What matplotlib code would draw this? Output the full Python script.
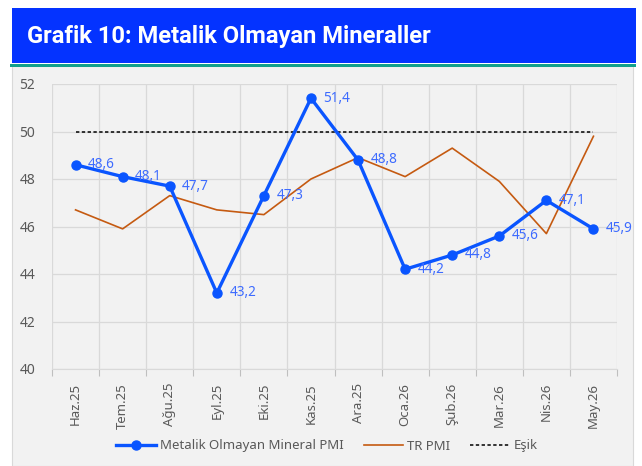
import matplotlib
matplotlib.use("Agg")
import matplotlib.pyplot as plt
from matplotlib.patches import Rectangle
from matplotlib.lines import Line2D

plt.rcParams['font.family'] = ['Noto Sans', 'DejaVu Sans']

months = ['Haz.25', 'Tem.25', 'Ağu.25', 'Eyl.25', 'Eki.25', 'Kas.25',
          'Ara.25', 'Oca.26', 'Şub.26', 'Mar.26', 'Nis.26', 'May.26']
mineral_pmi = [48.6, 48.1, 47.7, 43.2, 47.3, 51.4, 48.8, 44.2, 44.8, 45.6, 47.1, 45.9]
tr_pmi = [46.7, 45.9, 47.3, 46.7, 46.5, 48.0, 48.9, 48.1, 49.3, 47.9, 45.7, 49.8]
threshold = [50] * len(months)

W, H = 642, 466
fig = plt.figure(figsize=(W / 100, H / 100), dpi=100)
fig.patch.set_facecolor('white')

# panel background, title bar, green rule
fig.patches.append(Rectangle((12 / W, 0), 621 / W, 1 - 66 / H, transform=fig.transFigure,
                             facecolor='#F2F2F2', edgecolor='#D9D9D9', lw=0.8, zorder=-10))
fig.patches.append(Rectangle((12 / W, 1 - 63 / H), 624 / W, 55 / H, transform=fig.transFigure,
                             facecolor='#0433FF', edgecolor='none', zorder=-5))
fig.patches.append(Rectangle((10 / W, 1 - 67 / H), 626 / W, 3.5 / H, transform=fig.transFigure,
                             facecolor='#12A08C', edgecolor='none', zorder=-5))
fig.text(27 / W, 1 - 36 / H, 'Grafik 10: Metalik Olmayan Mineraller', color='white',
         fontsize=17.1, fontweight='bold', va='center', ha='left',
         family=['Roboto', 'DejaVu Sans'])

ax = fig.add_axes([52 / W, 1 - 369 / H, 565 / W, 285 / H])
ax.set_facecolor('#F2F2F2')
x = list(range(len(months)))

ax.plot(x, threshold, color='black', lw=1.1, ls=(0, (2.2, 1.6)), zorder=3)
ax.plot(x, tr_pmi, color='#C55A11', lw=1.2, zorder=4)
ax.plot(x, mineral_pmi, color='#0A55FF', lw=2.4, marker='o', ms=6.5, zorder=5)

for xi, v in zip(x, mineral_pmi):
    ax.annotate(f'{v:.1f}'.replace('.', ','), (xi, v), xytext=(9, 0), textcoords='offset points',
                va='center', ha='left', fontsize=9.8, color='#3D6BFF', zorder=6)

ax.set_xlim(-0.5, len(months) - 0.5)
ax.set_ylim(40, 52)
ax.set_yticks(range(40, 53, 2))
ax.set_xticks(x)
ax.set_xticklabels(months, rotation=90, fontsize=9.5, color='#595959')
ax.tick_params(axis='y', length=0, labelsize=10, labelcolor='#595959', pad=12)
ax.tick_params(axis='x', length=0, pad=10)

# gridlines between categories plus outward ticks
ax.set_xticks([i - 0.5 for i in range(len(months) + 1)], minor=True)
ax.tick_params(axis='x', which='minor', length=5, color='#BFBFBF', width=0.8)
ax.grid(axis='x', which='minor', color='#D9D9D9', lw=0.9)
ax.grid(axis='y', which='major', color='#D9D9D9', lw=0.9)
ax.set_axisbelow(True)
for s in ['top', 'right', 'left']:
    ax.spines[s].set_visible(False)
ax.spines['bottom'].set_color('#D9D9D9')

handles = [Line2D([], [], color='#0A55FF', lw=2.4, marker='o', ms=6.5),
           Line2D([], [], color='#C55A11', lw=1.2),
           Line2D([], [], color='black', lw=1.1, ls=(0, (2.2, 1.6)))]
fig.legend(handles, ['Metalik Olmayan Mineral PMI', 'TR PMI', 'Eşik'],
           loc='center', bbox_to_anchor=(327 / W, 1 - 446 / H), ncol=3, frameon=False,
           fontsize=9.5, labelcolor='#595959', handlelength=3.0, handletextpad=0.3,
           columnspacing=1.5)

fig.savefig('out.png', dpi=100, facecolor=fig.get_facecolor())
